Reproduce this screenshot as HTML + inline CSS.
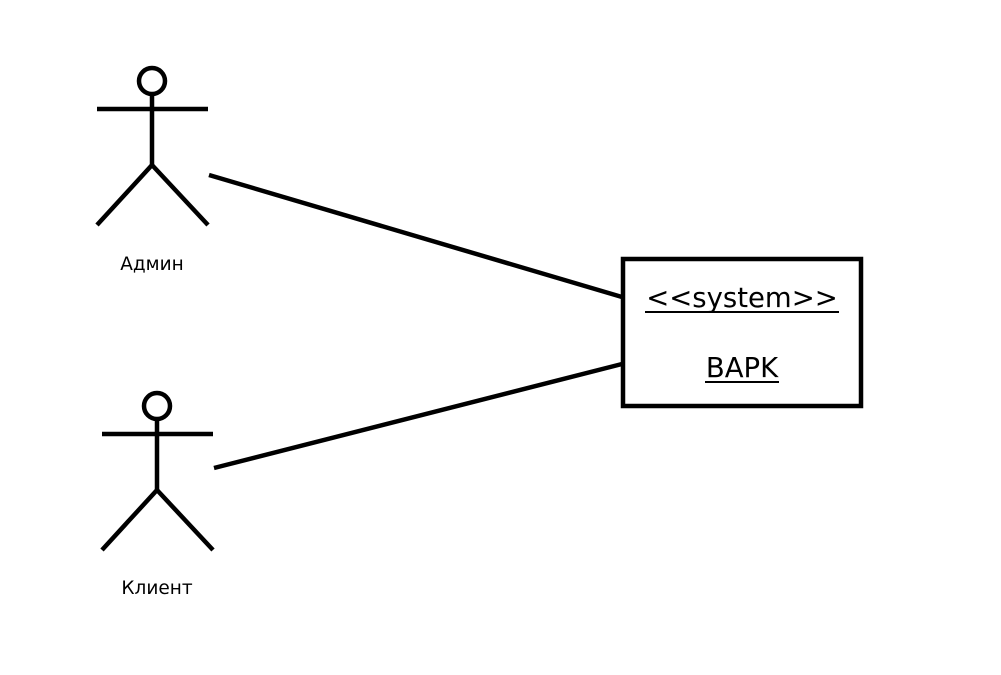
<!DOCTYPE html>
<html><head><meta charset="utf-8"><style>html,body{margin:0;padding:0;background:#fff;}svg{display:block}</style></head>
<body>
<svg width="1001" height="675" viewBox="0 0 1001 675" xmlns="http://www.w3.org/2000/svg" font-family="'DejaVu Sans','Liberation Sans',sans-serif">
<g stroke="#000" stroke-width="4.5" fill="none">
<circle cx="152" cy="81" r="13"/>
<line x1="97" y1="109" x2="208" y2="109"/>
<line x1="152" y1="94" x2="152" y2="165"/>
<line x1="152" y1="165" x2="97" y2="225"/>
<line x1="152" y1="165" x2="208" y2="225"/>
<circle cx="157" cy="406" r="13"/>
<line x1="102" y1="434" x2="213" y2="434"/>
<line x1="157" y1="419" x2="157" y2="490"/>
<line x1="157" y1="490" x2="102" y2="550"/>
<line x1="157" y1="490" x2="213" y2="550"/>
<line x1="209" y1="175" x2="622" y2="297"/>
<line x1="214" y1="468" x2="622" y2="364"/>
<rect x="623" y="259" width="238" height="147"/>
</g>
<text x="152" y="270" font-size="18.5" text-anchor="middle">Админ</text>
<text x="157" y="594" font-size="18.5" text-anchor="middle">Клиент</text>
<text x="742" y="307" font-size="27.5" text-anchor="middle">&lt;&lt;system&gt;&gt;</text>
<rect x="645" y="311" width="194" height="2"/>
<text x="742" y="377" font-size="27.5" text-anchor="middle">BAPK</text>
<rect x="705" y="381" width="74" height="2"/>
</svg>
</body></html>
